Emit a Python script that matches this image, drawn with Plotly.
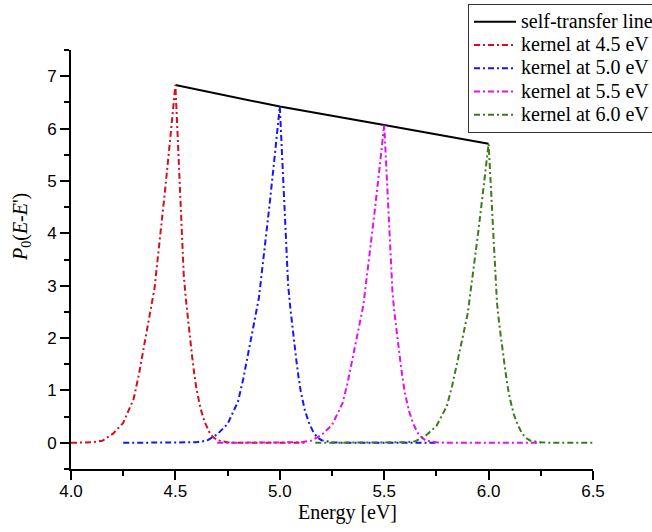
import plotly.graph_objects as go

# Peak energies of the four kernels and the self-transfer line through their maxima
peak_energy = [4.5, 5.0, 5.5, 6.0]
self_transfer = [6.83, 6.42, 6.07, 5.71]

# Energy offsets (eV) from each kernel's peak
offsets = [-0.83, -0.80, -0.75, -0.60, -0.50, -0.45, -0.40, -0.35, -0.30, -0.25,
           -0.20, -0.175, -0.15, -0.125, -0.10, -0.075, -0.05, -0.025, 0.0,
           0.01, 0.02, 0.03, 0.04, 0.05, 0.06, 0.07, 0.08, 0.09, 0.10,
           0.12, 0.14, 0.16, 0.18, 0.20, 0.25, 0.30, 0.40, 0.50, 0.62, 0.75]

# Kernel values at each offset (None = outside the computed range)
kernel_45 = [None, None, None, None, 0.0, 0.0, 0.01, 0.04, 0.17, 0.38,
             0.84, 1.30, 1.82, 2.40, 2.95, 3.85, 4.80, 5.80, 6.83,
             5.93, 5.02, 4.12, 3.20, 2.75, 2.35, 2.03, 1.65, 1.33, 1.05,
             0.66, 0.40, 0.22, 0.11, 0.05, 0.01, 0.0, 0.0, 0.0, 0.0, None]
kernel_50 = [None, None, 0.0, 0.0, 0.0, 0.0, 0.01, 0.04, 0.16, 0.36,
             0.79, 1.22, 1.71, 2.25, 2.77, 3.62, 4.51, 5.45, 6.42,
             5.57, 4.72, 3.87, 3.01, 2.59, 2.21, 1.91, 1.55, 1.25, 0.99,
             0.62, 0.38, 0.21, 0.10, 0.05, 0.01, 0.0, 0.0, 0.0, 0.0, 0.0]
kernel_55 = [None, 0.0, 0.0, 0.0, 0.0, 0.0, 0.01, 0.04, 0.15, 0.34,
             0.75, 1.15, 1.61, 2.13, 2.62, 3.42, 4.27, 5.15, 6.07,
             5.27, 4.46, 3.66, 2.85, 2.45, 2.09, 1.80, 1.47, 1.18, 0.93,
             0.59, 0.36, 0.19, 0.10, 0.04, 0.01, 0.0, 0.0, 0.0, 0.0, 0.0]
kernel_60 = [0.0, 0.0, 0.0, 0.0, 0.0, 0.0, 0.01, 0.03, 0.14, 0.32,
             0.70, 1.08, 1.52, 2.00, 2.47, 3.22, 4.01, 4.85, 5.71,
             4.96, 4.20, 3.44, 2.68, 2.30, 1.96, 1.70, 1.38, 1.11, 0.88,
             0.55, 0.34, 0.18, 0.09, 0.04, 0.01, 0.0, 0.0, 0.0, None, None]

kernels = [kernel_45, kernel_50, kernel_55, kernel_60]
kernel_names = ["kernel at 4.5 eV", "kernel at 5.0 eV", "kernel at 5.5 eV", "kernel at 6.0 eV"]
kernel_colors = ["#d4101c", "#1515ff", "#e010f0", "#3d7a1c"]

x_ticks = [4.0, 4.5, 5.0, 5.5, 6.0, 6.5]
y_ticks = [0, 1, 2, 3, 4, 5, 6, 7]

SERIF = "Liberation Serif, Times New Roman, serif"
SANS = "Liberation Sans, Arial, sans-serif"


def legend_label(text):
    # larger glyphs inside a compact legend row
    return f'<span style="font-family:{SERIF};font-size:20px">{text}</span>'


fig = go.Figure()

fig.add_trace(go.Scatter(
    x=peak_energy, y=self_transfer, mode="lines", name=legend_label("self-transfer line"),
    line=dict(color="black", width=2),
))

for e0, vals, name, col in zip(peak_energy, kernels, kernel_names, kernel_colors):
    xs, ys = [], []
    for d, v in zip(offsets, vals):
        if v is None:
            continue
        xs.append(e0 + d)
        ys.append(v)
    fig.add_trace(go.Scatter(
        x=xs, y=ys, mode="lines", name=legend_label(name),
        line=dict(color=col, width=2, dash="6px,3px,2px,3px"),
    ))

axis_common = dict(
    showgrid=False, zeroline=False, showline=True, linecolor="black", linewidth=2,
    ticks="outside", ticklen=9, tickwidth=2, tickcolor="black",
    tickfont=dict(family=SANS, size=17, color="black"), mirror=False,
)

fig.update_xaxes(
    range=[4.0, 6.5], tickvals=x_ticks, ticktext=[f"{v:.1f}" for v in x_ticks],
    minor=dict(dtick=0.25, tick0=4.0, ticks="outside", ticklen=5, tickwidth=2, tickcolor="black"),
    ticklabelstandoff=-3,
    **axis_common,
)
fig.update_yaxes(
    range=[-0.5, 7.5], tickvals=y_ticks, ticktext=[str(v) for v in y_ticks],
    minor=dict(dtick=0.5, tick0=-0.5, ticks="outside", ticklen=5, tickwidth=2, tickcolor="black"),
    **axis_common,
)

fig.add_annotation(
    text="Energy [eV]", xref="paper", yref="paper", x=(347 - 71) / 522, y=-(500 - 469) / 419,
    xanchor="center", yanchor="top", showarrow=False, borderpad=0,
    font=dict(family=SERIF, size=20, color="black"),
)
fig.add_annotation(
    text="<i>P</i><sub>0</sub>(<i>E</i>-<i>E</i>')", xref="paper", yref="paper",
    x=-(71 - 21) / 522, y=(469 - 227) / 419, textangle=-90,
    xanchor="center", yanchor="middle", showarrow=False,
    font=dict(family=SERIF, size=20, color="black"),
)

fig.update_layout(
    width=652, height=532,
    margin=dict(l=71, r=59, t=50, b=63, autoexpand=False),
    paper_bgcolor="white", plot_bgcolor="white",
    showlegend=True,
    legend=dict(
        x=(468 - 71) / 522, y=(469 - 4) / 419, xanchor="left", yanchor="top",
        bgcolor="white", bordercolor="#333333", borderwidth=1,
        font=dict(family=SERIF, size=15.6, color="black"),
        itemwidth=42, tracegroupgap=0,
    ),
)

fig.write_html("out.html")
